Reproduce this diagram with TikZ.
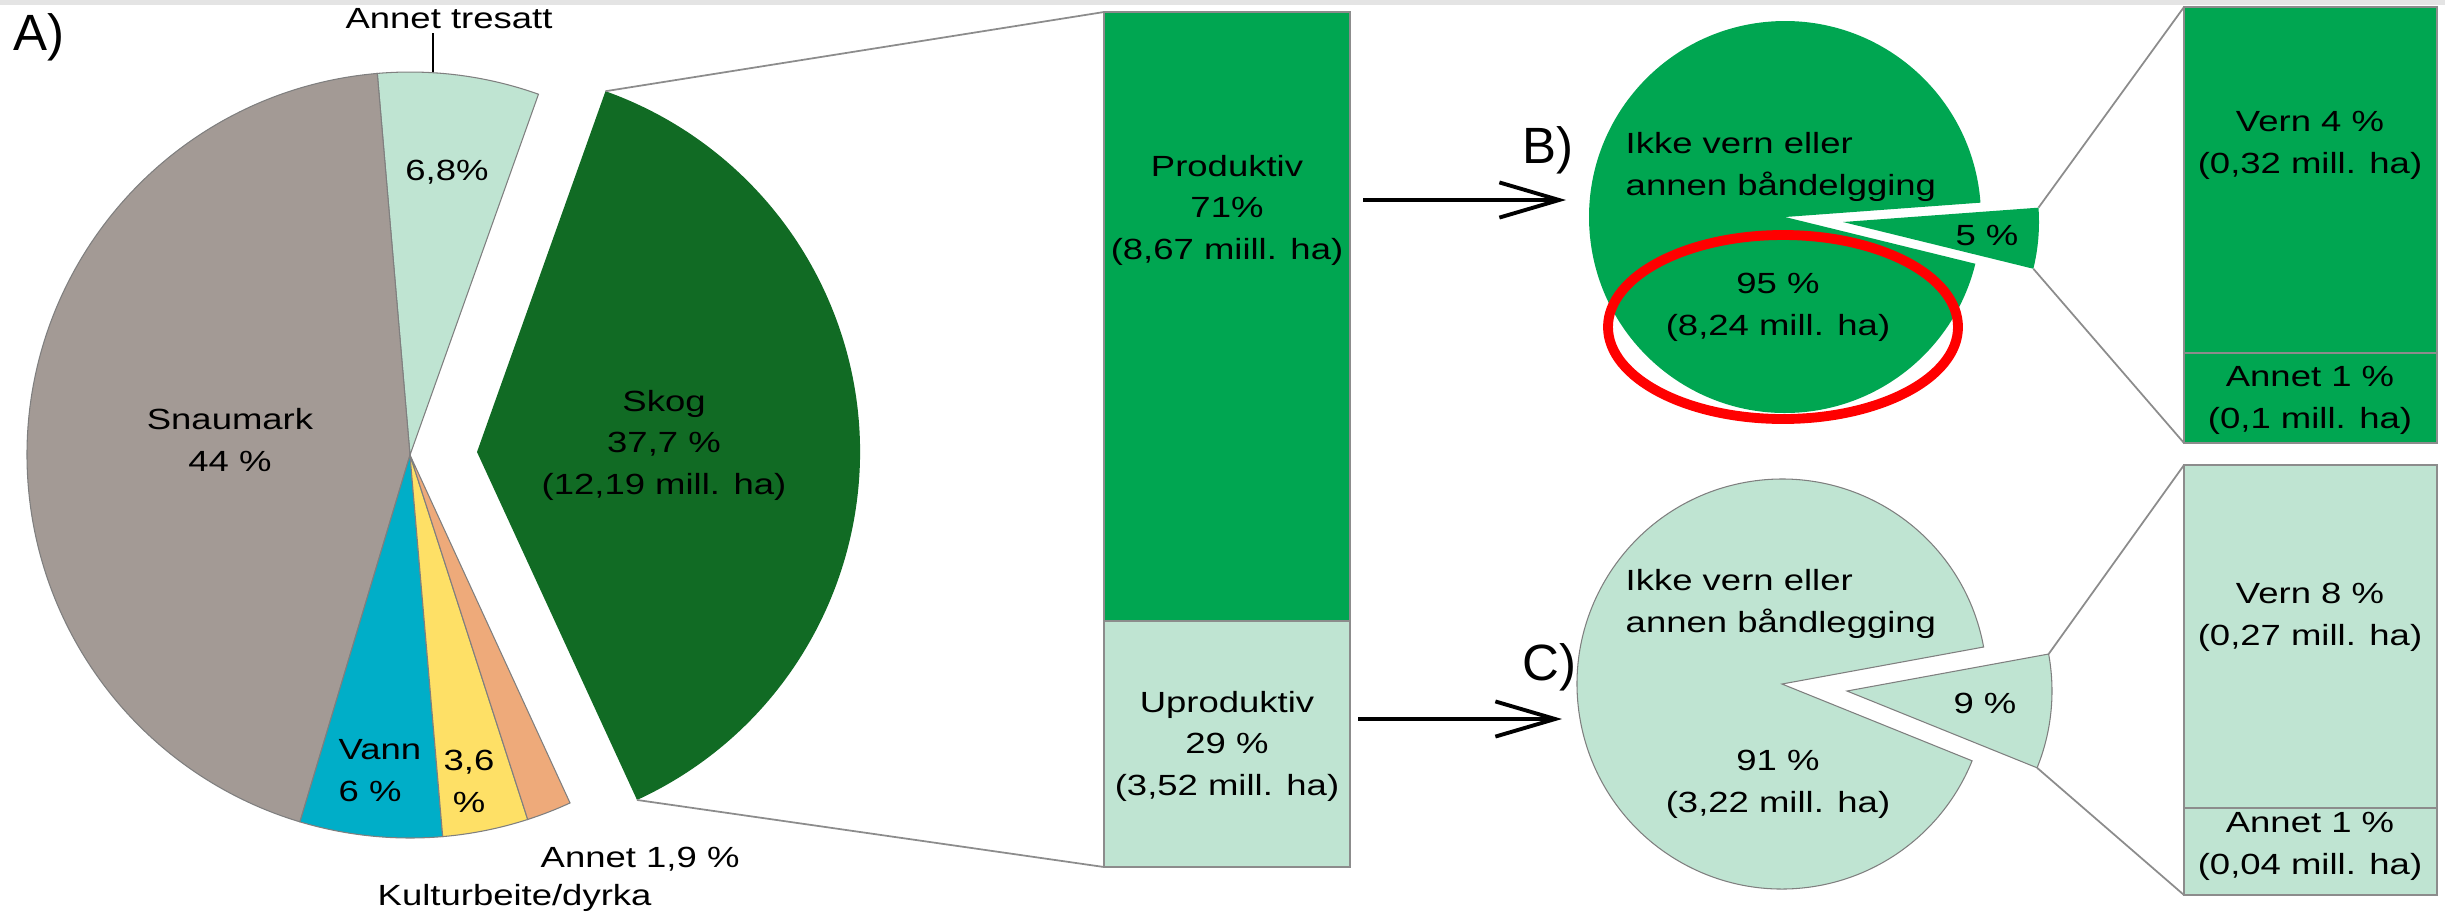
\documentclass[tikz,border=0pt]{standalone}
\usepackage{fontspec}
\setmainfont{Liberation Sans}[FakeStretch=1.25]
\newfontfamily\panelfont{Liberation Sans}
\usetikzlibrary{arrows.meta}

\definecolor{topband}{HTML}{E4E4E4}
\definecolor{snaugray}{HTML}{A39A95}
\definecolor{lightgreen}{HTML}{BFE4D2}
\definecolor{skoggreen}{HTML}{116B24}
\definecolor{prodgreen}{HTML}{00A651}
\definecolor{vannblue}{HTML}{00AEC8}
\definecolor{kulturyellow}{HTML}{FEE066}
\definecolor{annetorange}{HTML}{EEAA7A}
\definecolor{edgegray}{HTML}{7F7F7F}
\definecolor{zoomgray}{HTML}{8C8C8C}

\tikzset{
  lbl/.style={font=\fontsize{8.3}{11.7}\selectfont, align=center, inner sep=0pt, anchor=base},
  lblleft/.style={lbl, align=left, anchor=base west},
  panel/.style={font=\panelfont\fontsize{14.5}{16}\selectfont, inner sep=0pt, anchor=base west},
  edge/.style={draw=edgegray, line width=0.3pt},
  zoomline/.style={draw=zoomgray, line width=0.5pt},
  barbox/.style={draw=zoomgray, line width=0.6pt},
  flow/.style={-{Straight Barb[length=17pt,width=10pt]}, line width=1.1pt},
}

% centre, start angle, end angle, radius, options
\newcommand{\pieslice}[5]{%
  \filldraw[#5] (#1) -- ++(#2:#4) arc[start angle=#2, end angle=#3, radius=#4] -- cycle;}

\begin{document}
\begin{tikzpicture}[x=0.01cm, y=0.01cm]
  \useasboundingbox (0,0) rectangle (2445,-914);
  \fill[topband] (0,0) rectangle (2445,-5);

  % A) arealfordeling
  \coordinate (A) at (410,-455);
  \coordinate (Askog) at (477,-452);
  \pieslice{A}{70.4}{94.9}{383}{fill=lightgreen, edge}
  \pieslice{A}{94.9}{253.3}{383}{fill=snaugray, edge}
  \pieslice{A}{253.3}{274.9}{383}{fill=vannblue, edge}
  \pieslice{A}{274.9}{287.9}{383}{fill=kulturyellow, edge}
  \pieslice{A}{287.9}{294.7}{383}{fill=annetorange, edge}
  \pieslice{Askog}{-65.3}{70.4}{383}{fill=skoggreen, draw=none}
  \path (Askog) ++(70.4:383) coordinate (skogtop);
  \path (Askog) ++(-65.3:383) coordinate (skogbot);

  % multi-line labels sit on the baseline of their last line
  \node[panel] (labA) at (13,-50) {A)};
  \node[lbl] (tresatt) at (449,-28) {Annet tresatt};
  \coordinate (tresattpin) at (433,-72);
  \draw[line width=0.4pt] (tresattpin |- 0,-33) -- (tresattpin);
  \node[lbl] (tresattpct) at (447,-180) {6,8\%};
  \node[lbl] (snau) at (230,-471) {Snaumark\\44 \%};
  \node[lbl] (skog) at (664,-494) {Skog\\37,7 \%\\(12,19 mill. ha)};
  \node[lblleft] (vann) at (338,-801) {Vann\\6 \%};
  \node[lbl] (kultur) at (469,-812) {3,6\\\%};
  \node[lblleft] (annet) at (540,-867) {Annet 1,9 \%};
  \node[lblleft] (kulturtxt) at (377,-905) {Kulturbeite/dyrka};

  % skog: produktiv / uproduktiv
  \coordinate (bar1nw) at (1104,-12);
  \coordinate (bar1w) at (1104,-621);
  \coordinate (bar1e) at (1350,-621);
  \coordinate (bar1sw) at (1104,-867);
  \coordinate (bar1se) at (1350,-867);
  \filldraw[barbox, fill=prodgreen] (bar1nw) rectangle (bar1e);
  \filldraw[barbox, fill=lightgreen] (bar1w) rectangle (bar1se);
  \draw[zoomline] (skogtop) -- (bar1nw);
  \draw[zoomline] (skogbot) -- (bar1sw);
  \node[lbl] (prod) at (1227,-259) {Produktiv\\71\%\\(8,67 miill. ha)};
  \node[lbl] (uprod) at (1227,-795) {Uproduktiv\\29 \%\\(3,52 mill. ha)};

  \coordinate (arrB0) at (1363,-200);
  \coordinate (arrB1) at (1566,-200);
  \coordinate (arrC0) at (1358,-719);
  \coordinate (arrC1) at (1562,-719);
  \draw[flow] (arrB0) -- (arrB1);
  \draw[flow] (arrC0) -- (arrC1);

  % B) produktiv skog
  \coordinate (B) at (1785,-217);
  \coordinate (Bslc) at (1843,-222);
  \pieslice{B}{4.2}{346.2}{196}{fill=prodgreen, draw=none}
  \pieslice{Bslc}{-13.8}{4.2}{196}{fill=prodgreen, draw=none}
  \path (Bslc) ++(4.2:196) coordinate (btop);
  \path (Bslc) ++(-13.8:196) coordinate (bbot);
  \node[panel] (labB) at (1522,-163) {B)};
  \node[lblleft] (bikke) at (1625,-195) {Ikke vern eller\\annen båndelgging};
  \node[lbl] (b95) at (1778,-335) {95 \%\\(8,24 mill. ha)};
  \node[lbl] (b5) at (1987,-245) {5 \%};
  \draw[red, line width=2.8pt] (1783,-327) ellipse [x radius=175, y radius=92];

  \coordinate (bar2nw) at (2184,-7);
  \coordinate (bar2w) at (2184,-353);
  \coordinate (bar2e) at (2437,-353);
  \coordinate (bar2sw) at (2184,-443);
  \coordinate (bar2se) at (2437,-443);
  \filldraw[barbox, fill=prodgreen] (bar2nw) rectangle (bar2e);
  \filldraw[barbox, fill=prodgreen] (bar2w) rectangle (bar2se);
  \draw[zoomline] (btop) -- (bar2nw);
  \draw[zoomline] (bbot) -- (bar2sw);
  \node[lbl] (bvern) at (2310,-173) {Vern 4 \%\\(0,32 mill. ha)};
  \node[lbl] (bannet) at (2310,-428) {Annet 1 \%\\(0,1 mill. ha)};

  % C) uproduktiv skog
  \coordinate (C) at (1782,-684);
  \coordinate (Cslc) at (1847,-691);
  \pieslice{C}{10.4}{338}{205}{fill=lightgreen, edge}
  \pieslice{Cslc}{-22}{10.4}{205}{fill=lightgreen, edge}
  \path (Cslc) ++(10.4:205) coordinate (ctop);
  \path (Cslc) ++(-22:205) coordinate (cbot);
  \node[panel] (labC) at (1522,-680) {C)};
  \node[lblleft] (cikke) at (1625,-632) {Ikke vern eller\\annen båndlegging};
  \node[lbl] (c91) at (1778,-812) {91 \%\\(3,22 mill. ha)};
  \node[lbl] (c9) at (1985,-713) {9 \%};

  \coordinate (bar3nw) at (2184,-465);
  \coordinate (bar3w) at (2184,-808);
  \coordinate (bar3e) at (2437,-808);
  \coordinate (bar3sw) at (2184,-895);
  \coordinate (bar3se) at (2437,-895);
  \filldraw[barbox, fill=lightgreen] (bar3nw) rectangle (bar3e);
  \filldraw[barbox, fill=lightgreen] (bar3w) rectangle (bar3se);
  \draw[zoomline] (ctop) -- (bar3nw);
  \draw[zoomline] (cbot) -- (bar3sw);
  \node[lbl] (cvern) at (2310,-645) {Vern 8 \%\\(0,27 mill. ha)};
  \node[lbl] (cannet) at (2310,-874) {Annet 1 \%\\(0,04 mill. ha)};
\end{tikzpicture}
\end{document}
